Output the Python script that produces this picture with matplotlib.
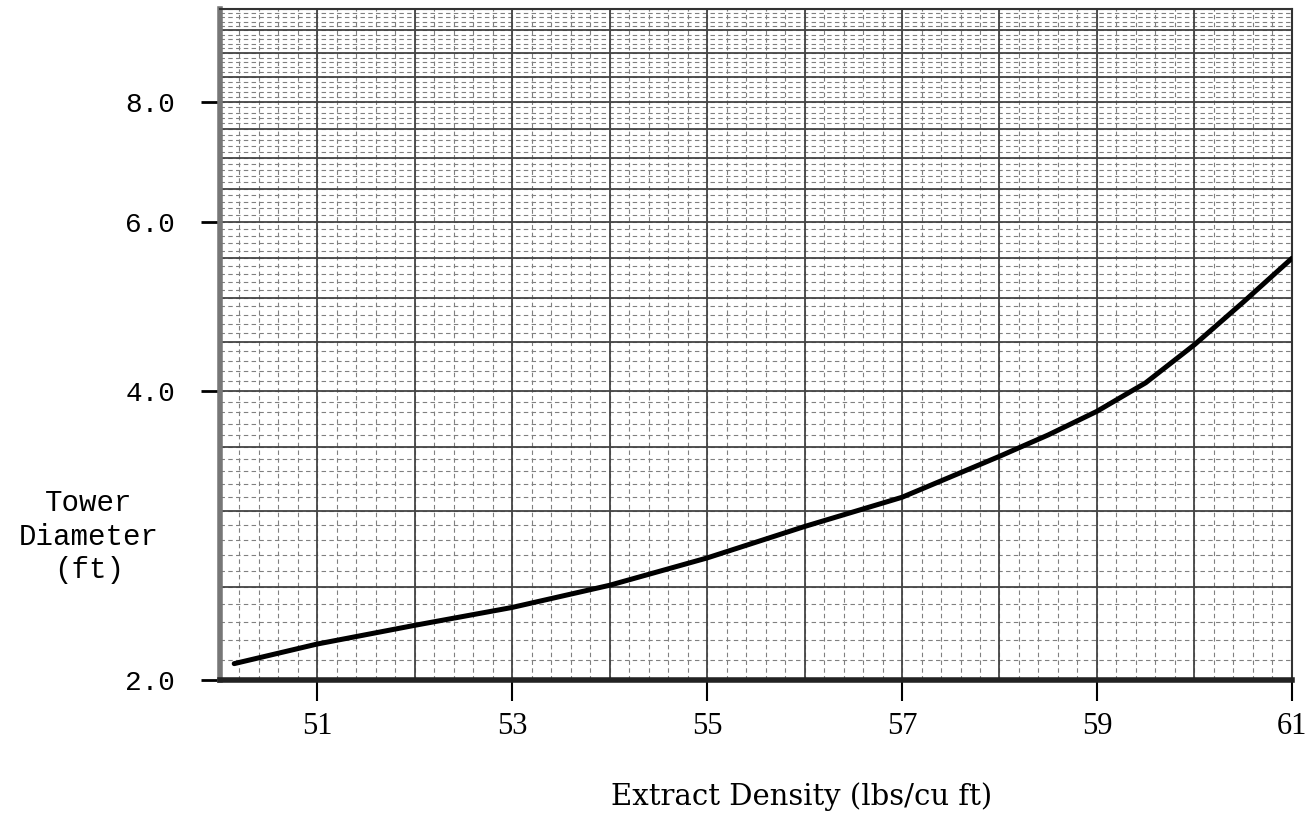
import matplotlib
matplotlib.use("Agg")
import matplotlib.pyplot as plt
from matplotlib.ticker import FixedLocator, NullFormatter
import numpy as np

# values
density = [50.15, 51, 52, 53, 54, 55, 56, 57, 58, 58.5, 59, 59.5, 60, 60.5, 61]
diameter = [2.08, 2.18, 2.28, 2.38, 2.51, 2.68, 2.89, 3.10, 3.42, 3.60, 3.81, 4.08,
            4.47, 4.95, 5.5]

x_ticks = [51, 53, 55, 57, 59, 61]
y_ticks = [2.0, 4.0, 6.0, 8.0]
y_labels = ["2.0", "4.0", "6.0", "8.0"]

fig = plt.figure(figsize=(13.07, 8.17), dpi=100)
ax = fig.add_axes([0.168, 0.1677, 0.8205, 0.8213])

ax.set_yscale("log")
ax.set_xlim(50, 61)
ax.set_ylim(2.0, 10.0)

# graph paper grid
ax.set_xticks(x_ticks)
ax.xaxis.set_minor_locator(FixedLocator(np.arange(50, 61.01, 0.2)))
ax.yaxis.set_major_locator(FixedLocator(y_ticks))
ax.yaxis.set_minor_locator(FixedLocator(np.arange(2.0, 10.01, 0.1)))
ax.yaxis.set_minor_formatter(NullFormatter())
ax.set_yticklabels(y_labels)

for xv in range(50, 62):
    ax.axvline(xv, color="#444444", lw=1.3, zorder=1)
for yv in np.arange(2.0, 10.01, 0.5):
    ax.axhline(yv, color="#444444", lw=1.3, zorder=1)
for xv in np.arange(50, 61.01, 0.2):
    ax.axvline(xv, color="#808080", lw=0.8, ls=(0, (4, 3)), zorder=0)
for yv in np.arange(2.0, 10.01, 0.1):
    ax.axhline(yv, color="#808080", lw=0.8, ls=(0, (4, 3)), zorder=0)

ax.plot(density, diameter, color="black", lw=3.6, solid_capstyle="round",
        solid_joinstyle="round", zorder=3)

for side in ["top", "right"]:
    ax.spines[side].set_linewidth(1.5)
    ax.spines[side].set_color("#333333")
ax.spines["left"].set_linewidth(4)
ax.spines["left"].set_color("#777777")
ax.spines["bottom"].set_linewidth(4)
ax.spines["bottom"].set_color("#222222")

ax.tick_params(axis="x", which="major", direction="out", length=15, width=1.5,
               pad=8, labelsize=22)
ax.tick_params(axis="y", which="major", direction="out", length=14, width=2,
               pad=18, labelsize=20)
ax.tick_params(which="minor", length=0)

for lab in ax.get_xticklabels():
    lab.set_family("Liberation Serif")
for lab in ax.get_yticklabels():
    lab.set_family("Liberation Mono")

fig.text(0.068, 0.343, "Tower\nDiameter\n(ft)", ha="center", va="center",
         family="Liberation Mono", fontsize=21, linespacing=1.25)
fig.text(0.613, 0.025, "Extract Density (lbs/cu ft)", ha="center", va="center",
         family="DejaVu Serif", fontsize=21)

fig.savefig("out.png", dpi=100)
